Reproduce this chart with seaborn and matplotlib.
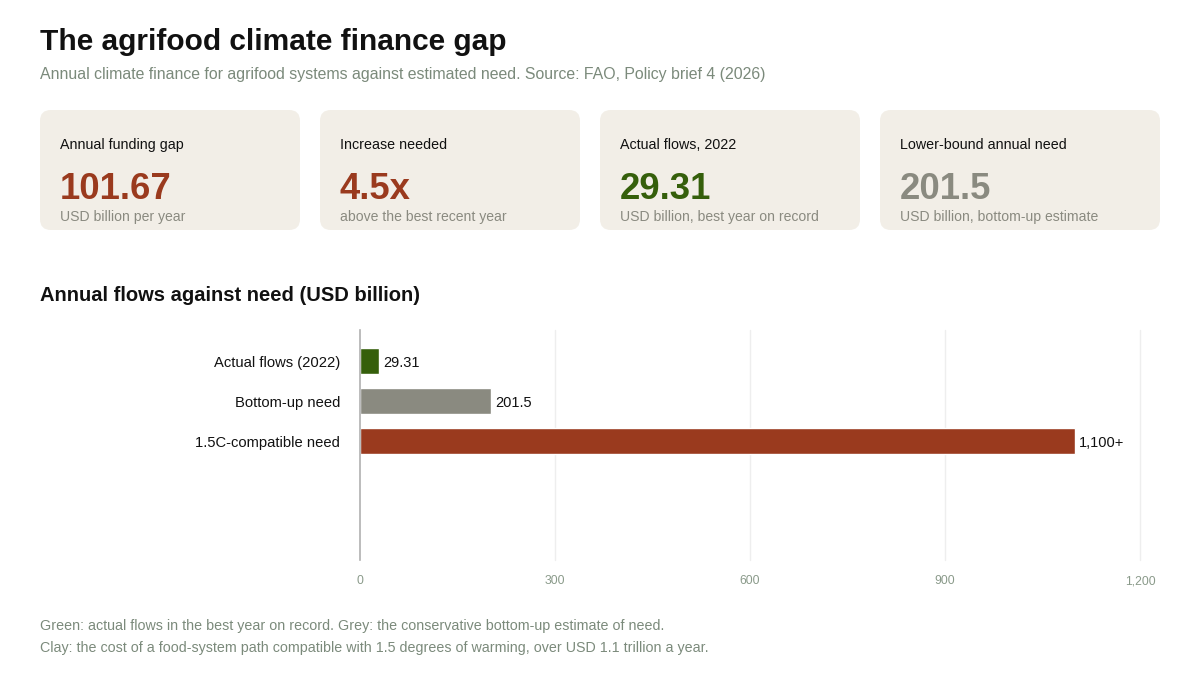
import matplotlib
matplotlib.use("Agg")
import matplotlib.pyplot as plt
from matplotlib.patches import FancyBboxPatch
import seaborn as sns
import pandas as pd

# data
categories = ["Actual flows (2022)", "Bottom-up need", "1.5C-compatible need"]
values = [29.31, 201.5, 1100]
value_labels = ["29.31", "201.5", "1,100+"]
bar_colors = ["#355f0b", "#8a8a80", "#9a3a1e"]

card_titles = ["Annual funding gap", "Increase needed", "Actual flows, 2022", "Lower-bound annual need"]
card_values = ["101.67", "4.5x", "29.31", "201.5"]
card_notes = ["USD billion per year", "above the best recent year",
              "USD billion, best year on record", "USD billion, bottom-up estimate"]
card_colors = ["#9a3a1e", "#9a3a1e", "#355f0b", "#8a8a80"]

xticks = [0, 300, 600, 900, 1200]
xtick_labels = ["0", "300", "600", "900", "1,200"]

sns.set_style("white")
plt.rcParams["font.family"] = ["Liberation Sans", "DejaVu Sans"]

W, H = 1200, 700
fig = plt.figure(figsize=(12, 7), dpi=100)

def fx(px):
    return px / W

def fy(py):
    return 1 - py / H

muted = "#7b8a7b"

fig.text(fx(40), fy(42), "The agrifood climate finance gap", fontsize=21.5, fontweight="bold",
         color="#111111", va="center", ha="left")
fig.text(fx(40), fy(75), "Annual climate finance for agrifood systems against estimated need. Source: FAO, Policy brief 4 (2026)",
         fontsize=11.4, color=muted, va="center", ha="left")

# KPI cards (last one runs to the right margin)
card_x = [40, 320, 600, 880]
card_w = [260, 260, 260, 280]
for i in range(4):
    x0 = card_x[i]
    box = FancyBboxPatch((fx(x0), fy(230)), fx(card_w[i]), 120 / H,
                         boxstyle="round,pad=0,rounding_size=0.009",
                         transform=fig.transFigure, facecolor="#f2eee7", edgecolor="none",
                         mutation_aspect=W / H)
    fig.patches.append(box)
    fig.text(fx(x0 + 20), fy(145), card_titles[i], fontsize=10.3, color="#111111", va="center")
    fig.text(fx(x0 + 20), fy(190), card_values[i], fontsize=26.3, fontweight="bold",
             color=card_colors[i], va="center")
    fig.text(fx(x0 + 20), fy(217), card_notes[i], fontsize=10.1, color="#8a8a80", va="center")

fig.text(fx(40), fy(295), "Annual flows against need (USD billion)", fontsize=14.5,
         fontweight="bold", color="#111111", va="center")

# bar chart
ax = fig.add_axes([fx(360), fy(560), fx(780), 230 / H])
df = pd.DataFrame({"category": categories, "value": values})
sns.barplot(data=df, x="value", y="category", hue="category", palette=bar_colors,
            legend=False, orient="h", width=0.65, ax=ax, saturation=1)

ax.set_xlim(0, 1200)
ax.set_ylim(4.975, -0.775)
ax.set_xticks(xticks)
ax.set_xticklabels(xtick_labels, fontsize=8.8, color="#8a9a8a")
ax.tick_params(axis="x", length=0, pad=17.3)
for lbl in ax.get_xticklabels():
    lbl.set_verticalalignment("baseline")
ax.tick_params(axis="y", length=0, pad=14.4, labelsize=10.6, labelcolor="#111111")
ax.set_xlabel("")
ax.set_ylabel("")
for xt in xticks[1:]:
    ax.axvline(xt, color="#eeeeee", lw=1, zorder=0, clip_on=False)
for side in ["top", "right", "bottom"]:
    ax.spines[side].set_visible(False)
ax.spines["left"].set_color("#b0b0b0")
ax.spines["left"].set_linewidth(1.2)

for i, v in enumerate(values):
    ax.text(v + 6, i, value_labels[i], va="center_baseline", ha="left", fontsize=10.5, color="#111111")

fig.text(fx(40), fy(626), "Green: actual flows in the best year on record. Grey: the conservative bottom-up estimate of need.",
         fontsize=10.25, color=muted, va="center")
fig.text(fx(40), fy(648), "Clay: the cost of a food-system path compatible with 1.5 degrees of warming, over USD 1.1 trillion a year.",
         fontsize=10.25, color=muted, va="center")

fig.savefig("out.png", dpi=100)
